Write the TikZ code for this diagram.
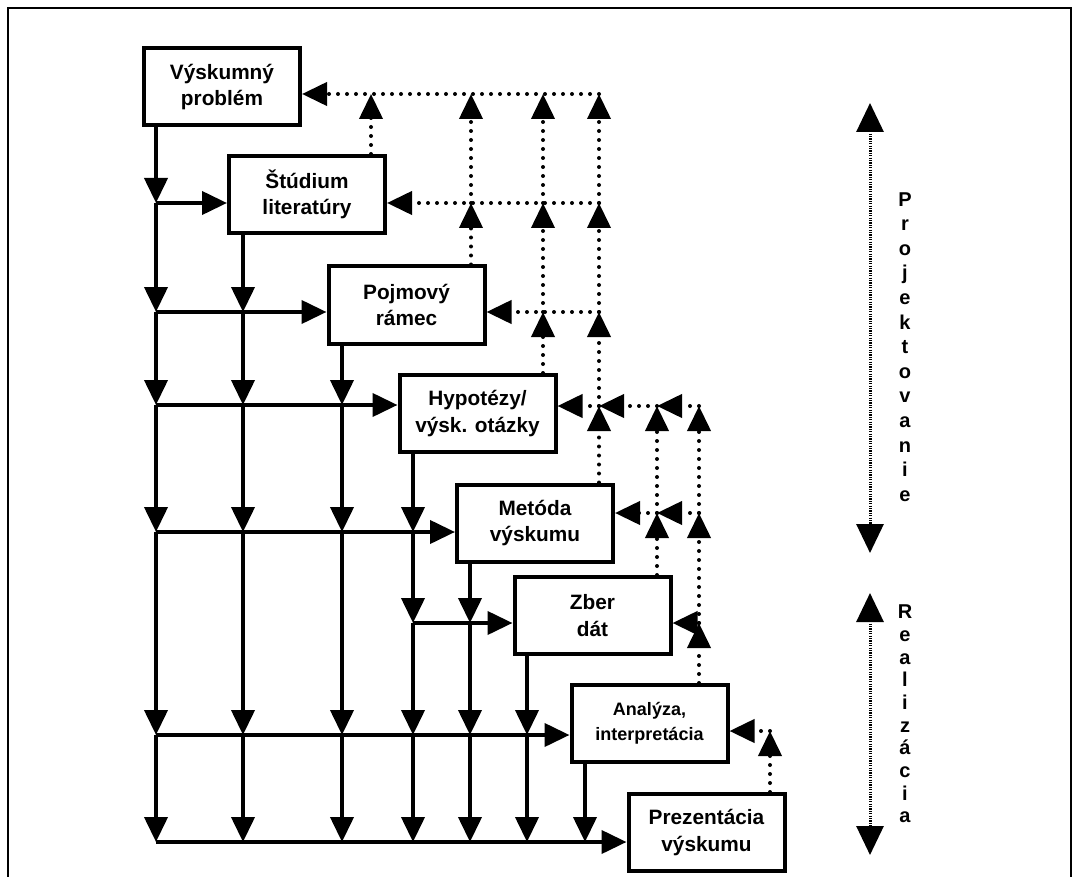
\documentclass[tikz,border=0pt]{standalone}
\usepackage{fontspec}
\setmainfont{Liberation Sans}
\newfontfamily\sidefont{Liberation Sans}
\usetikzlibrary{arrows.meta,calc}
\begin{document}
\begin{tikzpicture}[x=1pt,y=-1pt,
  box/.style={draw,line width=4pt,minimum width=156pt,minimum height=77pt,inner sep=0pt,align=center,
    font=\bfseries\fontsize{20.8}{26.5}\selectfont},
  smallbox/.style={box,font=\bfseries\fontsize{18}{25}\selectfont},
  flow/.style={line width=4pt,-{Triangle[length=25pt,width=23pt]}},
  fb/.style={line width=4pt,line cap=round,dash pattern=on 0pt off 9pt,-{Triangle[length=25pt,width=23pt]}},
  side/.style={line width=3pt,dash pattern=on 1.2pt off 1.2pt,{Triangle[length=29pt,width=27pt]}-{Triangle[length=29pt,width=27pt]}},
  sidetext/.style={inner sep=0pt,align=center,font=\sidefont\bfseries\fontsize{20}{24.6}\selectfont},
  frame/.style={line width=2pt}]
\useasboundingbox (0,0) rectangle (1073,877);
\draw[frame] (8,890) -- (8,8) -- (1071,8) -- (1071,890);

% boxes
\node[box] (b1) at (222,87) {Výskumný\\problém};
\node[box] (b2) at (307,194.5) {Štúdium\\literatúry};
\node[box] (b3) at (406.5,305) {Pojmový\\rámec};
\node[box] (b4) at (477.5,413.5) {Hypotézy/\\výsk. otázky};
\node[box] (b5) at (535,523) {Metóda\\výskumu};
\node[box] (b6) at (592.5,615.5) {Zber\\dát};
\node[smallbox] (b7) at (649.5,723.5) {Analýza,\\interpretácia};
\node[box] (b8) at (706.5,832.5) {Prezentácia\\výskumu};

% trunk x and row y
\coordinate (t1) at (156,0);
\coordinate (t2) at (243,0);
\coordinate (t3) at (342,0);
\coordinate (t4) at (413,0);
\coordinate (t5) at (470,0);
\coordinate (t6) at (527,0);
\coordinate (t7) at (585,0);
\coordinate (r2) at (0,203);
\coordinate (r3) at (0,312);
\coordinate (r4) at (0,405);
\coordinate (r5) at (0,532);
\coordinate (r6) at (0,623);
\coordinate (r7) at (0,735);
\coordinate (r8) at (0,842);

% trunks
\draw[flow] (t1|-b1.south) -- (t1|-r2);
\foreach \a/\b in {r2/r3,r3/r4,r4/r5,r5/r7,r7/r8} \draw[flow] (t1|-\a) -- (t1|-\b);
\draw[flow] (t2|-b2.south) -- (t2|-r3);
\foreach \a/\b in {r3/r4,r4/r5,r5/r7,r7/r8} \draw[flow] (t2|-\a) -- (t2|-\b);
\draw[flow] (t3|-b3.south) -- (t3|-r4);
\foreach \a/\b in {r4/r5,r5/r7,r7/r8} \draw[flow] (t3|-\a) -- (t3|-\b);
\draw[flow] (t4|-b4.south) -- (t4|-r5);
\foreach \a/\b in {r5/r6,r6/r7,r7/r8} \draw[flow] (t4|-\a) -- (t4|-\b);
\draw[flow] (t5|-b5.south) -- (t5|-r6);
\foreach \a/\b in {r6/r7,r7/r8} \draw[flow] (t5|-\a) -- (t5|-\b);
\draw[flow] (t6|-b6.south) -- (t6|-r7);
\draw[flow] (t6|-r7) -- (t6|-r8);
\draw[flow] (t7|-b7.south) -- (t7|-r8);

% rows into boxes
\draw[flow] (t1|-r2) -- (b2.west|-r2);
\draw[flow] (t1|-r3) -- (b3.west|-r3);
\draw[flow] (t1|-r4) -- (b4.west|-r4);
\draw[flow] (t1|-r5) -- (b5.west|-r5);
\draw[flow] (t4|-r6) -- (b6.west|-r6);
\draw[flow] (t1|-r7) -- (b7.west|-r7);
\draw[flow] (t1|-r8) -- (b8.west|-r8);

% feedback columns and rows
\coordinate (c1) at (371,0);
\coordinate (c2) at (471,0);
\coordinate (c3) at (543,0);
\coordinate (c4) at (599,0);
\coordinate (c5) at (657,0);
\coordinate (c6) at (699,0);
\coordinate (c7) at (770,0);
\coordinate (d1) at (0,94);
\coordinate (d2) at (0,203);
\coordinate (d3) at (0,312);
\coordinate (d4) at (0,406);
\coordinate (d5) at (0,513);
\coordinate (d6) at (0,623);
\coordinate (d7) at (0,731);

\draw[fb] (c1|-b2.north) -- (c1|-d1);
\draw[fb] (c2|-b3.north) -- (c2|-d2);
\draw[fb] (c2|-d2) -- (c2|-d1);
\draw[fb] (c3|-b4.north) -- (c3|-d3);
\foreach \a/\b in {d3/d2,d2/d1} \draw[fb] (c3|-\a) -- (c3|-\b);
\draw[fb] (c4|-b5.north) -- (c4|-d4);
\foreach \a/\b in {d4/d3,d3/d2,d2/d1} \draw[fb] (c4|-\a) -- (c4|-\b);
\draw[fb] (c5|-b6.north) -- (c5|-d5);
\draw[fb] (c5|-d5) -- (c5|-d4);
\draw[fb] (c6|-b7.north) -- (c6|-d6);
\foreach \a/\b in {d6/d5,d5/d4} \draw[fb] (c6|-\a) -- (c6|-\b);
\draw[fb] (c7|-b8.north) -- (c7|-d7);

\draw[fb] (c4|-d1) -- (b1.east|-d1);
\draw[fb] (c4|-d2) -- (b2.east|-d2);
\draw[fb] (c4|-d3) -- (b3.east|-d3);
\draw[fb] (c6|-d4) -- (c5|-d4);
\draw[fb] (c5|-d4) -- (c4|-d4);
\draw[fb] (c4|-d4) -- (b4.east|-d4);
\draw[fb] (c6|-d5) -- (c5|-d5);
\draw[fb] (c5|-d5) -- (b5.east|-d5);
\draw[fb] (c6|-d6) -- (b6.east|-d6);
\draw[fb] (c7|-d7) -- (b7.east|-d7);

% phase arrows
\coordinate (pa) at (870,103);
\coordinate (pb) at (870,553);
\coordinate (ra) at (870,593);
\coordinate (rb) at (870,855);
\draw[side] (pa) -- (pb);
\draw[side] (ra) -- (rb);
\node[sidetext] (proj) at (905,347) {P\\r\\o\\j\\e\\k\\t\\o\\v\\a\\n\\i\\e};
\node[sidetext,font=\sidefont\bfseries\fontsize{20}{22.7}\selectfont] (real) at (905,714) {R\\e\\a\\l\\i\\z\\á\\c\\i\\a};
\end{tikzpicture}
\end{document}
